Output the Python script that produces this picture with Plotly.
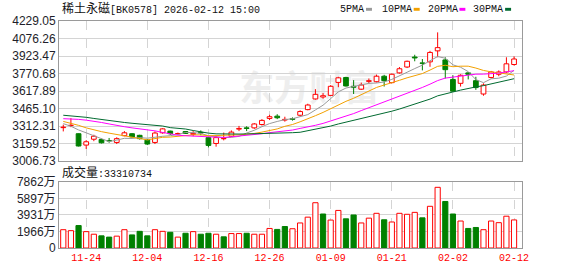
import plotly.graph_objects as go

dates = ["11-19","11-20","11-21","11-24","11-25","11-26","11-27","11-28",
         "12-01","12-02","12-03","12-04","12-05","12-08","12-09","12-10","12-11","12-12",
         "12-15","12-16","12-17","12-18","12-19","12-22","12-23","12-24","12-25","12-26",
         "12-29","12-30","12-31","01-05","01-06","01-07","01-08","01-09","01-12","01-13",
         "01-14","01-15","01-16","01-19","01-20","01-21","01-22","01-23","01-26","01-27",
         "01-28","01-29","01-30","02-02","02-03","02-04","02-05","02-06","02-09","02-10",
         "02-11","02-12"]

opens  = [3300,3318,3247,3148,3199,3196,3188,3171,3230,3247,3233,3191,3171,3255,3270,3246,3266,3242,3259,3213,
          3162,3203,3225,3287,3298,3298,3327,3380,3400,3366,3378,3408,3457,3550,3567,3581,3694,3737,3660,3635,
          3703,3700,3748,3692,3777,3828,3915,3864,3873,3969,3890,3720,3686,3777,3709,3593,3737,3765,3785,3850]
highs  = [3326,3383,3250,3191,3238,3204,3210,3216,3270,3253,3238,3202,3267,3295,3274,3257,3270,3270,3276,3219,
          3233,3257,3276,3315,3312,3340,3374,3412,3417,3395,3389,3451,3508,3635,3601,3671,3743,3743,3714,3692,
          3728,3762,3760,3771,3828,3884,3935,3898,3969,4130,3913,3756,3765,3785,3743,3686,3794,3799,3913,3921]
lows   = [3267,3304,3136,3114,3182,3162,3168,3157,3225,3215,3196,3148,3157,3247,3236,3236,3245,3225,3233,3128,
          3134,3189,3219,3270,3270,3289,3318,3366,3374,3352,3361,3397,3451,3544,3552,3575,3652,3658,3593,3629,
          3686,3694,3658,3686,3771,3819,3878,3799,3830,3913,3728,3612,3658,3720,3629,3578,3728,3748,3777,3841]
closes = [3304,3321,3140,3177,3225,3168,3183,3204,3255,3219,3204,3157,3253,3289,3247,3249,3249,3250,3253,3145,
          3213,3206,3261,3293,3293,3332,3363,3395,3386,3372,3372,3440,3497,3590,3578,3660,3734,3663,3652,3671,
          3709,3748,3709,3765,3813,3878,3907,3860,3955,3997,3805,3618,3756,3765,3649,3671,3785,3785,3856,3898]

# volume in 万 (10k shares)
volumes = [2172,2057,2663,1943,1634,1440,1291,1406,2172,1554,1977,1440,2172,1977,1863,1291,1749,1943,1634,1749,
           1634,1326,1714,1714,1749,1634,1634,2320,2206,2549,2286,2972,3658,5372,4035,3315,4458,3463,3920,2972,
           3543,4115,3349,3086,4115,4000,4229,3577,4949,7201,5521,4035,3200,2320,2435,2172,3200,3006,3772,3331]
# direction of each volume bar (1 = up/red, 0 = down/green)
vol_up = [1,1,0,1,1,0,0,1,1,0,0,0,1,1,0,1,0,1,0,0,
          1,0,1,1,0,1,1,1,0,0,1,1,1,1,0,1,1,0,0,1,
          1,1,0,1,1,1,1,0,1,1,0,0,1,0,0,1,1,1,1,1]

ma5  = [3335,3312,3280,3255,3233.4,3206.2,3178.6,3191.4,3207,3205.8,3213,3207.8,3217.6,3224.4,3230,3239,3257.4,3256.8,3249.6,3229.2,
        3222,3213.4,3215.6,3223.6,3253.2,3277,3308.4,3335.2,3353.8,3369.6,3377.6,3393,3413.4,3454.2,3495.4,3553,3611.8,3645,3657.4,3676,
        3685.8,3688.6,3697.8,3720.4,3748.8,3782.6,3814.4,3844.6,3882.6,3919.4,3904.8,3847,3826.2,3788.2,3718.6,3691.8,3725.2,3731,3749.2,3799]
ma10 = [3354,3340,3320,3298,3280,3265,3252,3240,3230,3219.6,3209.6,3193.2,3204.5,3215.7,3217.9,3226,3232.6,3237.2,3237,3229.6,
        3230.5,3235.4,3236.2,3236.6,3241.2,3249.5,3260.9,3275.4,3288.7,3311.4,3327.3,3350.7,3374.3,3404,3432.5,3465.3,3502.4,3529.2,3555.8,3585.7,
        3619.4,3650.2,3671.4,3688.9,3712.4,3734.2,3751.5,3771.2,3801.5,3834.1,3843.7,3830.7,3835.4,3835.4,3819,3798.3,3786.1,3778.6,3768.7,3758.8]
ma20 = [3378,3376,3372,3365,3357,3345,3332,3318,3308,3298,3290,3283,3272,3258,3244,3234,3229,3227,3225,3224.6,
        3220.1,3214.3,3220.4,3226.2,3229.6,3237.8,3246.8,3256.3,3262.9,3270.5,3278.9,3293.1,3305.3,3320.3,3336.9,3357.4,3381.7,3402.3,3422.3,3448.6,
        3473.4,3500.5,3522.9,3546.5,3572.5,3599.8,3627,3650.2,3678.7,3709.9,3731.6,3740.5,3753.4,3762.2,3765.7,3766.3,3768.8,3774.9,3785.1,3796.5]
ma30 = [3408,3404,3398,3390,3380,3370,3360,3352,3345,3338,3331,3325,3320,3314,3300,3295,3288,3275,3262,3252,
        3246,3244,3243,3244,3245,3246,3247,3249,3251,3253.5,3255.8,3259.8,3271.7,3285.4,3297.2,3313.6,3332,3347.3,3360.5,3375.6,
        3392.4,3412.1,3427.3,3443.2,3462,3483,3504.9,3525.3,3548.7,3577.1,3596.8,3610.5,3627,3642.8,3654.6,3665.9,3680,3693,3708.7,3726.2]

price_ticks = [3006.73,3159.52,3312.31,3465.10,3617.89,3770.68,3923.47,4076.26,4229.05]
price_labels = ["3006.73","3159.52","3312.31","3465.10","3617.89","3770.68","3923.47","4076.26","4229.05"]
vol_ticks = [0,1966,3931,5897,7862]
vol_labels = ["0","1966万","3931万","5897万","7862万"]
x_tick_labels = ["11-24","12-04","12-16","12-26","01-09","01-21","02-02","02-12"]

RED = "#ff0000"
GREEN = "#008000"
idx = list(range(len(dates)))
x_tick_idx = [dates.index(d) for d in x_tick_labels]

up = [c >= o for o, c in zip(opens, closes)]
body_base = [min(o, c) for o, c in zip(opens, closes)]
body_h = [max(abs(c - o), 1.0) for o, c in zip(opens, closes)]
fill = ["#ffffff" if u else GREEN for u in up]
edge = [RED if u else GREEN for u in up]
vfill = ["#ffffff" if u else GREEN for u in vol_up]
vedge = [RED if u else GREEN for u in vol_up]

fig = go.Figure()

# wicks
for want, col in ((True, RED), (False, GREEN)):
    wx, wy = [], []
    for i in idx:
        if up[i] != want:
            continue
        top = max(opens[i], closes[i]); bot = min(opens[i], closes[i])
        wx += [i, i, None, i, i, None]
        wy += [highs[i], top, None, bot, lows[i], None]
    fig.add_trace(go.Scatter(x=wx, y=wy, mode="lines", line=dict(color=col, width=1),
                             xaxis="x", yaxis="y", hoverinfo="skip"))

fig.add_trace(go.Bar(x=idx, y=body_h, base=body_base, width=0.62,
                     marker=dict(color=fill, line=dict(color=edge, width=1)),
                     xaxis="x", yaxis="y"))

for arr, col in ((ma5, "#999999"), (ma10, "#f2a000"), (ma20, "#ff00ff"), (ma30, "#006a30")):
    fig.add_trace(go.Scatter(x=idx, y=arr, mode="lines", line=dict(color=col, width=1),
                             xaxis="x", yaxis="y"))

fig.add_trace(go.Bar(x=idx, y=volumes, width=0.68,
                     marker=dict(color=vfill, line=dict(color=vedge, width=1)),
                     xaxis="x2", yaxis="y2"))

W, H, ML, MT, MB = 578, 276, 56, 21, 22
PH = H - MT - MB
PW = W - 2 * ML
def py(pix):
    return 1 - (pix - MT) / PH
def px(pix):
    return (pix - ML) / PW

frame = "#9a9a9a"
grid = "#d4d4d4"
xr = [-0.56, 60.04]
common_x = dict(range=xr, tickmode="array", tickvals=x_tick_idx, showgrid=True, gridcolor=grid,
                griddash="dash", gridwidth=1, showline=True, linecolor=frame, mirror=True,
                zeroline=False, ticks="", fixedrange=True)

fig.update_layout(
    width=W, height=H, autosize=False,
    margin=dict(l=ML, r=ML, t=MT, b=MB, pad=0),
    paper_bgcolor="white", plot_bgcolor="white", showlegend=False, barmode="overlay",
    xaxis=dict(domain=[0, 1], anchor="y", showticklabels=False, **common_x),
    xaxis2=dict(domain=[0, 1], anchor="y2", ticktext=x_tick_labels, showticklabels=True,
                tickfont=dict(family="Liberation Mono, DejaVu Sans Mono", size=10, color=RED), **common_x),
    yaxis=dict(domain=[py(165), 1], range=[price_ticks[0], price_ticks[-1]], tickmode="array",
               tickvals=price_ticks, ticktext=price_labels, showgrid=True, gridcolor=grid,
               showline=True, linecolor=frame, mirror=True, zeroline=False, ticks="",
               tickfont=dict(family="Liberation Sans, Arial", size=12, color="#1e1e2a")),
    yaxis2=dict(domain=[0, py(186)], range=[0, 7862], tickmode="array",
                tickvals=vol_ticks, ticktext=vol_labels, showgrid=True, gridcolor=grid,
                showline=True, linecolor=frame, mirror=True, zeroline=False, ticks="",
                tickfont=dict(family="Liberation Sans, Noto Sans CJK SC", size=12, color="#1e1e2a")),
)

mono = "Liberation Mono, Noto Sans CJK SC"
ann = [
    dict(text="<span style='font-size:12px'>稀土永磁</span>[BK0578] 2026-02-12 15:00",
         x=px(57), y=py(9), xanchor="left", yanchor="middle"),
    dict(text="<span style='font-size:12px'>成交量</span>:33310734",
         x=px(57), y=py(177.5), xanchor="left", yanchor="middle"),
    dict(text="5PMA", x=px(337), y=py(9), xanchor="left", yanchor="middle"),
    dict(text="10PMA", x=px(379), y=py(9), xanchor="left", yanchor="middle"),
    dict(text="20PMA", x=px(425), y=py(9), xanchor="left", yanchor="middle"),
    dict(text="30PMA", x=px(471), y=py(9), xanchor="left", yanchor="middle"),
]
for a in ann:
    a.update(xref="paper", yref="paper", showarrow=False,
             font=dict(family=mono, size=10, color="#111111"))
fig.update_layout(annotations=ann)

shapes = []
for x0, col in ((365, "#999999"), (413, "#f2a000"), (459, "#ff00ff"), (505, "#006a30")):
    shapes.append(dict(type="rect", xref="paper", yref="paper", x0=px(x0), x1=px(x0 + 6),
                       y0=py(10.5), y1=py(7.5), fillcolor=col, line=dict(width=0)))
shapes.append(dict(type="rect", xref="paper", yref="paper", x0=px(236), x1=px(380),
                   y0=py(112), y1=py(74), fillcolor="rgba(0,0,0,0)", line=dict(width=0), layer="below",
                   label=dict(text="东方财富", textposition="middle center",
                              font=dict(family="Noto Sans CJK SC", size=35, color="#eeeeee", weight="bold"))))
fig.update_layout(shapes=shapes)

fig.write_html("out.html")
